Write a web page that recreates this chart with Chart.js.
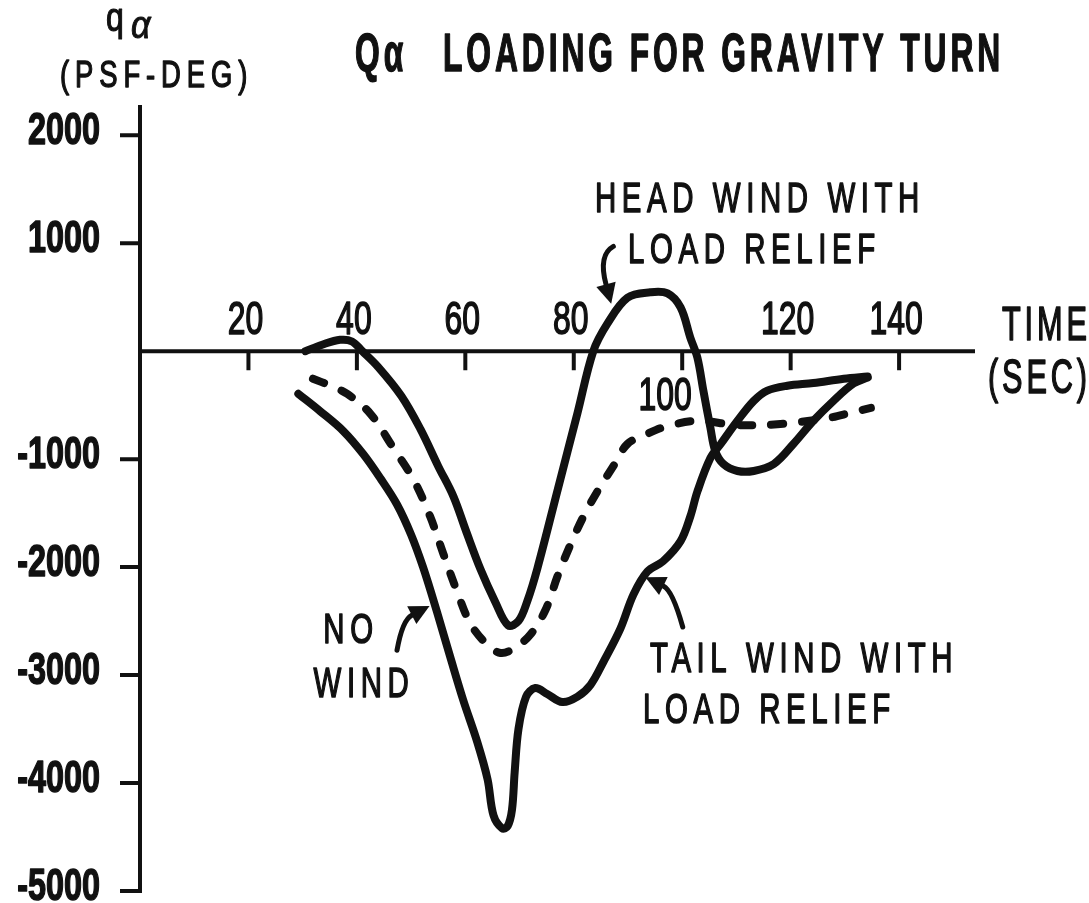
<!DOCTYPE html>
<html>
<head>
<meta charset="utf-8">
<title>Q-alpha loading for gravity turn</title>
<script src="https://cdn.jsdelivr.net/npm/chart.js@4.4.1/dist/chart.umd.min.js"></script>
<style>
  html, body { margin: 0; padding: 0; background: #fff; }
  canvas { display: block; }
</style>
</head>
<body>
<canvas id="qaChart" width="1089" height="903"></canvas>
<script>
// time (sec) / q-alpha (psf-deg) along each curve
const headWindT = [30.5, 33.6, 36.9, 39.1, 41.0, 43.9, 48.2, 51.7, 55.0, 57.8, 60.2, 62.8, 65.5, 67.9, 69.8, 71.4, 73.3, 77.0, 80.7, 83.6, 86.2, 89.9, 94.1, 97.3, 99.7, 101.5, 102.8, 103.9, 105.2, 106.1, 107.6, 110.2, 113.2, 116.9, 120.5, 124.2, 127.9, 131.6, 134.2];
const headWindQ = [0, 60, 105, 90, 0, -145, -415, -720, -1065, -1345, -1675, -2020, -2320, -2540, -2500, -2320, -2010, -1290, -570, 0, 255, 495, 545, 535, 405, 125, -60, -365, -710, -925, -1045, -1110, -1110, -1045, -860, -645, -460, -300, -245];

const noWindT = [31.9, 35.1, 38.2, 42.5, 46.7, 50.4, 53.5, 55.9, 58.5, 60.9, 63.7, 66.5, 69.2, 72.0, 74.8, 77.0, 79.4, 81.8, 84.4, 87.3, 89.9, 93.6, 96.9, 102.8, 110.2, 118.1, 126.8, 131.1, 134.8];
const noWindQ = [-255, -320, -395, -580, -895, -1185, -1530, -1870, -2230, -2520, -2700, -2795, -2745, -2625, -2395, -2085, -1790, -1530, -1295, -1065, -860, -765, -700, -645, -685, -675, -620, -570, -525];

const tailWindT = [29.2, 33.2, 37.5, 41.2, 44.3, 47.4, 50.0, 52.2, 54.8, 57.2, 59.6, 62.2, 64.1, 65.2, 66.8, 67.8, 68.6, 69.1, 69.8, 71.2, 72.9, 75.1, 77.9, 80.7, 83.1, 85.5, 88.6, 91.0, 93.6, 96.5, 99.7, 101.5, 102.8, 105.2, 107.1, 110.2, 113.2, 115.7, 119.4, 124.2, 129.8, 134.2];
const tailWindQ = [-395, -555, -740, -955, -1175, -1420, -1700, -2000, -2420, -2830, -3230, -3620, -3965, -4300, -4420, -4400, -4250, -3900, -3500, -3200, -3120, -3175, -3250, -3200, -3090, -2875, -2570, -2255, -2040, -1945, -1760, -1530, -1300, -990, -860, -645, -460, -365, -320, -295, -255, -235];

const xTicks = [20, 40, 60, 80, 100, 120, 140];
const yTicks = [2000, 1000, -1000, -2000, -3000, -4000, -5000];

const ink = '#111';
const face = '"Liberation Sans", Arial, sans-serif';

function series(t, q) {
    return t.map((v, i) => ({ x: v, y: q[i] }));
}

// condensed lettering: squeeze the glyphs horizontally, optionally thicken the strokes
function letter(ctx, str, x, y, o) {
    ctx.save();
    ctx.font = (o.style || '') + ' ' + (o.weight || 'normal') + ' ' + o.size + 'px ' + face;
    ctx.letterSpacing = (o.spacing || 0) + 'px';
    ctx.fillStyle = ink;
    ctx.strokeStyle = ink;
    ctx.lineJoin = 'round';
    ctx.textBaseline = 'alphabetic';
    ctx.textAlign = o.align || 'left';
    ctx.translate(x, y);
    ctx.scale(o.squeeze || 1, 1);
    ctx.fillText(str, 0, 0);
    if (o.heavy) {
        ctx.lineWidth = o.heavy;
        ctx.strokeText(str, 0, 0);
    }
    ctx.restore();
}

// curved pointer with a filled head, given in data units
function pointer(ctx, x, y, from, ctrl, to) {
    const p0 = [x.getPixelForValue(from[0]), y.getPixelForValue(from[1])];
    const c = [x.getPixelForValue(ctrl[0]), y.getPixelForValue(ctrl[1])];
    const p1 = [x.getPixelForValue(to[0]), y.getPixelForValue(to[1])];
    const ang = Math.atan2(p1[1] - c[1], p1[0] - c[0]);
    const len = 20, half = 10;
    const bx = p1[0] - len * Math.cos(ang), by = p1[1] - len * Math.sin(ang);
    ctx.save();
    ctx.strokeStyle = ink;
    ctx.fillStyle = ink;
    ctx.lineWidth = 5;
    ctx.lineCap = 'round';
    ctx.beginPath();
    ctx.moveTo(p0[0], p0[1]);
    ctx.quadraticCurveTo(c[0], c[1], bx, by);
    ctx.stroke();
    ctx.beginPath();
    ctx.moveTo(p1[0], p1[1]);
    ctx.lineTo(bx + half * Math.sin(ang), by - half * Math.cos(ang));
    ctx.lineTo(bx - half * Math.sin(ang), by + half * Math.cos(ang));
    ctx.closePath();
    ctx.fill();
    ctx.restore();
}

const axesAndNotes = {
    id: 'axesAndNotes',
    beforeDatasetsDraw(chart) {
        const { ctx, scales: { x, y } } = chart;
        const x0 = x.getPixelForValue(0);
        const y0 = y.getPixelForValue(0);
        ctx.save();
        ctx.strokeStyle = ink;
        ctx.lineWidth = 4;
        ctx.beginPath();
        ctx.moveTo(x0, y.getPixelForValue(y.max));
        ctx.lineTo(x0, y.getPixelForValue(y.min) + 2);
        ctx.moveTo(x0, y0);
        ctx.lineTo(x.getPixelForValue(x.max), y0);
        yTicks.forEach(v => {
            const py = y.getPixelForValue(v);
            ctx.moveTo(x0 - 20, py);
            ctx.lineTo(x0, py);
        });
        xTicks.forEach(v => {
            const px = x.getPixelForValue(v);
            ctx.moveTo(px, y0);
            ctx.lineTo(px, y0 + 19);
        });
        ctx.stroke();
        ctx.restore();
    },
    afterDraw(chart) {
        const { ctx, scales: { x, y } } = chart;
        const x0 = x.getPixelForValue(0);
        const y0 = y.getPixelForValue(0);

        // tick labels
        yTicks.forEach(v => {
            letter(ctx, String(v), x0 - 40, y.getPixelForValue(v) + 9,
                { size: 45, weight: 'bold', squeeze: 0.72, align: 'right', heavy: 1.5 });
        });
        const tickFont = { size: 47, squeeze: 0.68, align: 'center', heavy: 1.6 };
        xTicks.forEach(v => {
            const px = x.getPixelForValue(v);
            if (v === 100) {
                // sits under the axis, clear of the head-wind hump
                letter(ctx, String(v), px - 17, y0 + 59, tickFont);
            } else {
                letter(ctx, String(v), px - 3, y0 - 17, tickFont);
            }
        });

        // axis titles
        letter(ctx, 'q', 106, 31, { size: 40, squeeze: 0.8, heavy: 1.2 });
        letter(ctx, '\u03b1', 131, 38, { size: 38, style: 'italic', squeeze: 0.9, heavy: 1 });
        letter(ctx, '(PSF-DEG)', 60, 87, { size: 37, squeeze: 0.74, spacing: 8, heavy: 1.4 });
        letter(ctx, 'TIME', 1002, 340, { size: 48, squeeze: 0.64, spacing: 6, heavy: 1.6 });
        letter(ctx, '(SEC)', 988, 393, { size: 48, squeeze: 0.64, spacing: 6, heavy: 1.6 });

        // chart title
        const titleFont = { size: 53, weight: 'bold', squeeze: 0.6, spacing: 6.5, heavy: 1.5 };
        letter(ctx, 'Q\u03b1', 355, 71, titleFont);
        letter(ctx, 'LOADING FOR GRAVITY TURN', 443, 71, titleFont);

        // curve call-outs
        const note = { size: 42, squeeze: 0.7, spacing: 8, heavy: 1.5 };
        letter(ctx, 'HEAD WIND WITH', 595, 212, note);
        letter(ctx, 'LOAD RELIEF', 628, 263, note);
        letter(ctx, 'NO', 351, 643, Object.assign({ align: 'center' }, note));
        letter(ctx, 'WIND', 364, 697, Object.assign({ align: 'center' }, note));
        letter(ctx, 'TAIL WIND WITH', 650, 672, note);
        letter(ctx, 'LOAD RELIEF', 643, 723, note);

        pointer(ctx, x, y, [87.3, 970], [84.5, 890], [86.9, 440]);
        pointer(ctx, x, y, [47.4, -2770], [48.4, -2490], [53.4, -2360]);
        pointer(ctx, x, y, [100.1, -2555], [98.2, -2215], [93.2, -2095]);
    }
};

const curve = {
    borderColor: ink,
    borderWidth: 8,
    pointRadius: 0,
    fill: false,
    tension: 0.35,
    borderCapStyle: 'round',
    borderJoinStyle: 'round'
};

new Chart(document.getElementById('qaChart').getContext('2d'), {
    type: 'line',
    data: {
        datasets: [
            Object.assign({ label: 'HEAD WIND WITH LOAD RELIEF', data: series(headWindT, headWindQ) }, curve),
            Object.assign({ label: 'NO WIND', data: series(noWindT, noWindQ), borderDash: [12, 19] }, curve),
            Object.assign({ label: 'TAIL WIND WITH LOAD RELIEF', data: series(tailWindT, tailWindQ) }, curve)
        ]
    },
    options: {
        responsive: false,
        animation: false,
        layout: { padding: { left: 140, right: 114, top: 105, bottom: 12 } },
        scales: {
            x: { type: 'linear', min: 0, max: 154, display: false },
            y: { type: 'linear', min: -5000, max: 2280, display: false }
        },
        plugins: {
            legend: { display: false },
            tooltip: { enabled: false }
        }
    },
    plugins: [axesAndNotes]
});
</script>
</body>
</html>
